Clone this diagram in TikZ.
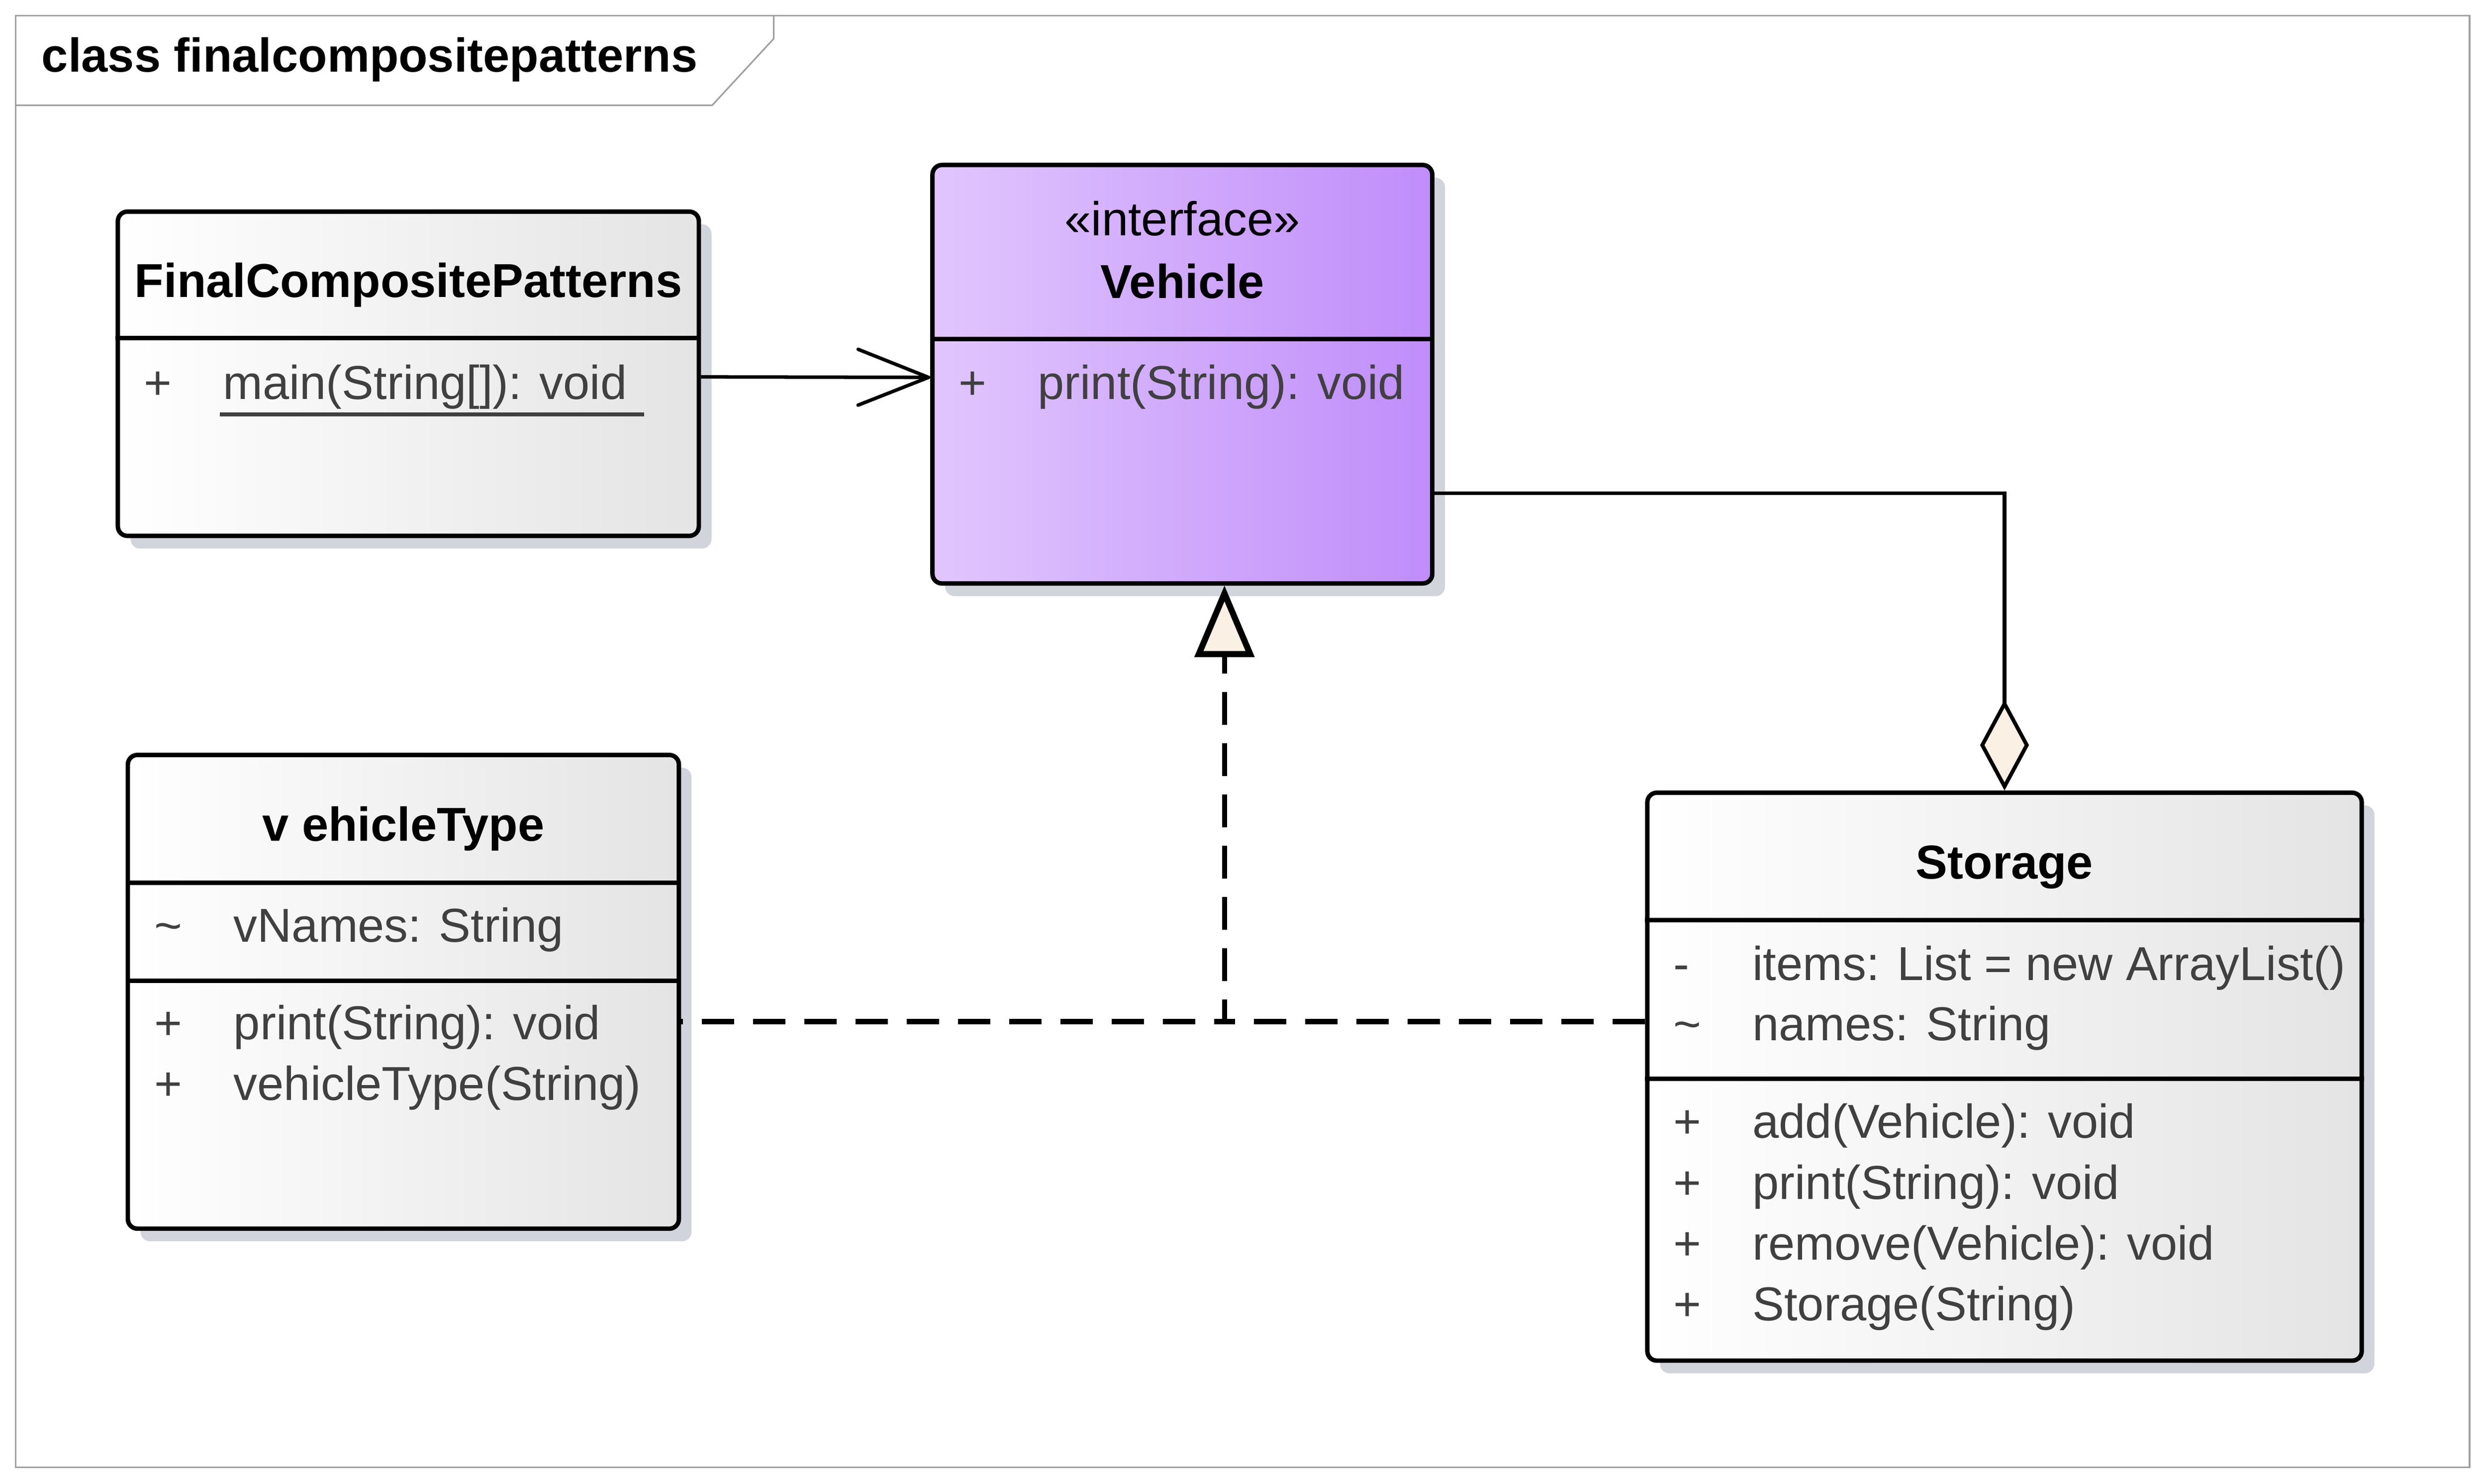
\documentclass[tikz,border=0pt]{standalone}
\usepackage{fontspec}
\setmainfont{Liberation Sans}
\usetikzlibrary{arrows.meta,fit,shadows}

\definecolor{framegray}{RGB}{160,160,160}
\definecolor{boxgray}{RGB}{228,228,228}
\definecolor{vleft}{RGB}{225,198,253}
\definecolor{vright}{RGB}{192,141,250}
\definecolor{shadowgray}{RGB}{210,212,220}
\definecolor{cream}{RGB}{250,240,227}
\definecolor{membergray}{RGB}{64,64,64}

\newcommand{\umlfont}{\fontsize{15pt}{18pt}\selectfont}
\newcommand{\memb}[2]{\makebox[25pt][l]{#1}#2}

\tikzset{
  classbox/.style={draw=black, line width=1.4pt, rounded corners=3pt, inner sep=0pt,
    left color=white, right color=boxgray,
    drop shadow={shadow xshift=4pt, shadow yshift=-4pt, fill=shadowgray, opacity=1}},
  ifacebox/.style={classbox, left color=vleft, right color=vright},
  divider/.style={line width=1.4pt},
  cname/.style={anchor=base, inner sep=0pt, font=\umlfont\bfseries},
  member/.style={anchor=base west, inner sep=0pt, text=membergray, font=\umlfont},
  uline/.style={membergray, line width=1.2pt},
  depend/.style={line width=1.1pt, -{Straight Barb[length=22.2pt, width=17.6pt, round]}},
  realize/.style={line width=1.6pt, dash pattern=on 10.3pt off 5.85pt,
    -{Triangle[fill=cream, length=22.5pt, width=18.5pt, line width=1.9pt]}},
  aggreg/.style={line width=1.2pt, -{Diamond[fill=cream, length=28.6pt, width=15.4pt]}}
}

\begin{document}
\begin{tikzpicture}[x=0.5pt, y=-0.5pt]
    \useasboundingbox (0,0) rectangle (1568,935.3);
    % diagram frame
    \draw[framegray, line width=0.5pt] (10,10) rectangle (1557,925);
    \draw[framegray, line width=0.5pt] (10,66.4) -- (449,66.4) -- (487.8,24.4) -- (487.8,10);
    \node[anchor=base west, inner sep=0pt, font=\umlfont\bfseries] (title) at (25.9,45.4) {class finalcompositepatterns};

    % FinalCompositePatterns
    \node[classbox, fit={(74.3,133.4) (440.6,337.8)}] (fcp) {};
    \draw[divider] (fcp.west |- 0,213.1) -- (fcp.east |- 0,213.1);
    \node[cname] (fcpname) at (257.5,187.5) {FinalCompositePatterns};
    \node[member] (fcpop) at (90.3,251.6) {\memb{+}{main(String[]): void}};
    \draw[uline] (138.7,261.3) -- (406,261.3);

    % Vehicle
    \node[ifacebox, fit={(587.9,104) (903,367.8)}] (vehicle) {};
    \draw[divider] (vehicle.west |- 0,213.8) -- (vehicle.east |- 0,213.8);
    \node[anchor=base, inner sep=0pt, font=\umlfont] (vehiclest) at (745.5,148.4) {«interface»};
    \node[cname] (vehiclename) at (745.5,187.9) {Vehicle};
    \node[member] (vehicleop) at (604,251.8) {\memb{+}{print(String): void}};

    % vehicleType
    \node[classbox, fit={(80.6,475.9) (428,774.5)}] (vtype) {};
    \draw[divider] (vtype.west |- 0,556.6) -- (vtype.east |- 0,556.6);
    \draw[divider] (vtype.west |- 0,618.4) -- (vtype.east |- 0,618.4);
    \node[cname] (vtypename) at (254.3,530.2) {v ehicleType};
    \node[member] (vtypeattr) at (97,593.8) {\memb{\textasciitilde}{vNames: String}};
    \node[member] (vtypeopa) at (97,655.3) {\memb{+}{print(String): void}};
    \node[member] (vtypeopb) at (97,693.6) {\memb{+}{vehicleType(String)}};

    % Storage
    \node[classbox, fit={(1038.6,499.7) (1489,857.7)}] (storage) {};
    \draw[divider] (storage.west |- 0,580) -- (storage.east |- 0,580);
    \draw[divider] (storage.west |- 0,680) -- (storage.east |- 0,680);
    \node[cname] (storagename) at (1263.8,554) {Storage};
    \node[member] (storageattra) at (1054.6,617.9) {\memb{-}{items: List = new ArrayList()}};
    \node[member] (storageattrb) at (1054.6,655.8) {\memb{\textasciitilde}{names: String}};
    \node[member] (storageopa) at (1054.6,717.4) {\memb{+}{add(Vehicle): void}};
    \node[member] (storageopb) at (1054.6,755.8) {\memb{+}{print(String): void}};
    \node[member] (storageopc) at (1054.6,794.2) {\memb{+}{remove(Vehicle): void}};
    \node[member] (storageopd) at (1054.6,832.6) {\memb{+}{Storage(String)}};

    % relations
    \coordinate (jn) at (772,644);
    \draw[depend] ([yshift=-1pt]fcp.east) -- ([yshift=-1pt]vehicle.west);
    \draw[aggreg] ([yshift=-37.5pt]vehicle.east) -| (storage.north);
    \draw[realize, dash phase=9.65pt] (vtype.east |- jn) -- (jn) -- (vehicle.south -| jn);
    \draw[realize, dash phase=0pt] (storage.west |- jn) -- (jn) -- (vehicle.south -| jn);
\end{tikzpicture}
\end{document}
